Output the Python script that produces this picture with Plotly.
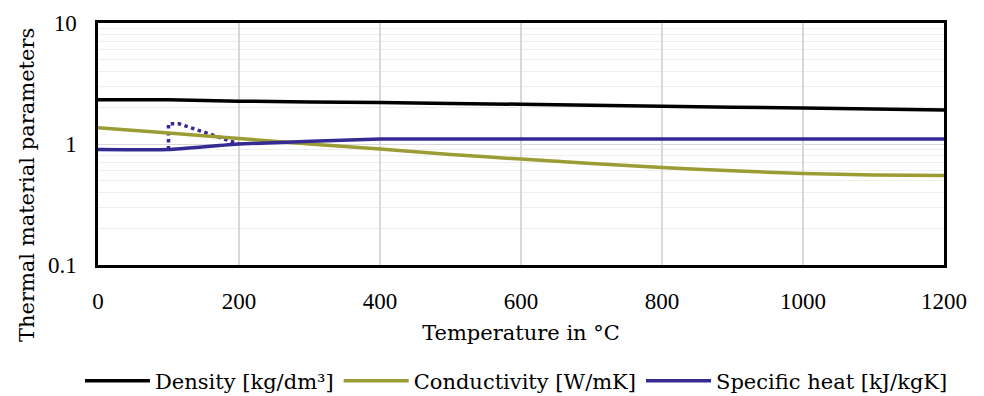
import plotly.graph_objects as go

temp_density = [0, 100, 200, 400, 600, 800, 1000, 1200]
density = [2.32, 2.32, 2.26, 2.20, 2.13, 2.05, 1.98, 1.91]

temp_cond = [0, 100, 200, 300, 400, 500, 600, 700, 800, 900, 1000, 1100, 1200]
conductivity = [1.36, 1.23, 1.11, 1.00, 0.91, 0.82, 0.75, 0.69, 0.64, 0.60, 0.57, 0.555, 0.55]

temp_cp = [0, 100, 200, 400, 1200]
specific_heat = [0.9, 0.9, 1.0, 1.1, 1.1]

temp_cp_peak = [100, 100, 115, 200]
cp_peak = [0.9, 1.47, 1.47, 1.0]

x_ticks = [0, 200, 400, 600, 800, 1000, 1200]

FONT_T = "DejaVu Serif"
FONT_N = "Liberation Serif"
C_DENS = "#000000"
C_COND = "#9c9c34"
C_CP = "#352a92"

fig = go.Figure()
fig.add_trace(go.Scatter(x=temp_cp_peak, y=cp_peak, mode="lines", showlegend=False,
                         line=dict(color=C_CP, width=3.5, dash="dot")))
fig.add_trace(go.Scatter(x=temp_density, y=density, mode="lines", name="Density [kg/dm³]",
                         line=dict(color=C_DENS, width=3.5, shape="spline", smoothing=0.5)))
fig.add_trace(go.Scatter(x=temp_cond, y=conductivity, mode="lines", name="Conductivity [W/mK]",
                         line=dict(color=C_COND, width=3.5, shape="spline", smoothing=0.5)))
fig.add_trace(go.Scatter(x=temp_cp, y=specific_heat, mode="lines", name="Specific heat [kJ/kgK]",
                         line=dict(color=C_CP, width=3.5, shape="spline", smoothing=0.4)))

fig.update_layout(
    width=984, height=396,
    margin=dict(l=98, r=40, t=23, b=131, autoexpand=False),
    paper_bgcolor="white", plot_bgcolor="white",
    font=dict(family=FONT_T, size=21, color="black"),
    legend=dict(orientation="h", x=(80 - 98) / 846, xanchor="left",
                y=(265 - 381) / 242, yanchor="middle",
                font=dict(size=21, family=FONT_T), itemwidth=65, traceorder="normal"),
    annotations=[dict(text="Thermal material parameters", textangle=-90,
                      xref="paper", yref="paper", x=-0.084, y=0.33,
                      xanchor="center", yanchor="middle", showarrow=False,
                      font=dict(size=21, family=FONT_T))],
)
fig.update_xaxes(range=[0, 1200], tickvals=x_ticks, ticks="", showline=True, linecolor="black",
                 linewidth=2.5, mirror=True, showgrid=True, gridcolor="#d9d9d9", gridwidth=1.5,
                 zeroline=False, tickfont=dict(family=FONT_N, size=23), ticklabelstandoff=14,
                 title=dict(text="Temperature in °C", standoff=12, font=dict(size=21, family=FONT_T)))
fig.update_yaxes(type="log", range=[-1, 1], tickvals=[0.1, 1, 10], ticktext=["0.1", "1", "10"],
                 ticks="", showline=True, linecolor="black", linewidth=2.5, mirror=True,
                 showgrid=True, gridcolor="#d9d9d9", gridwidth=1,
                 tickfont=dict(family=FONT_N, size=23), ticklabelstandoff=14,
                 minor=dict(tickvals=[v * d for d in (0.1, 1) for v in range(2, 10)],
                            showgrid=True, gridcolor="#efefef", gridwidth=1, ticks=""),
                 zeroline=False)

fig.write_html("out.html")
